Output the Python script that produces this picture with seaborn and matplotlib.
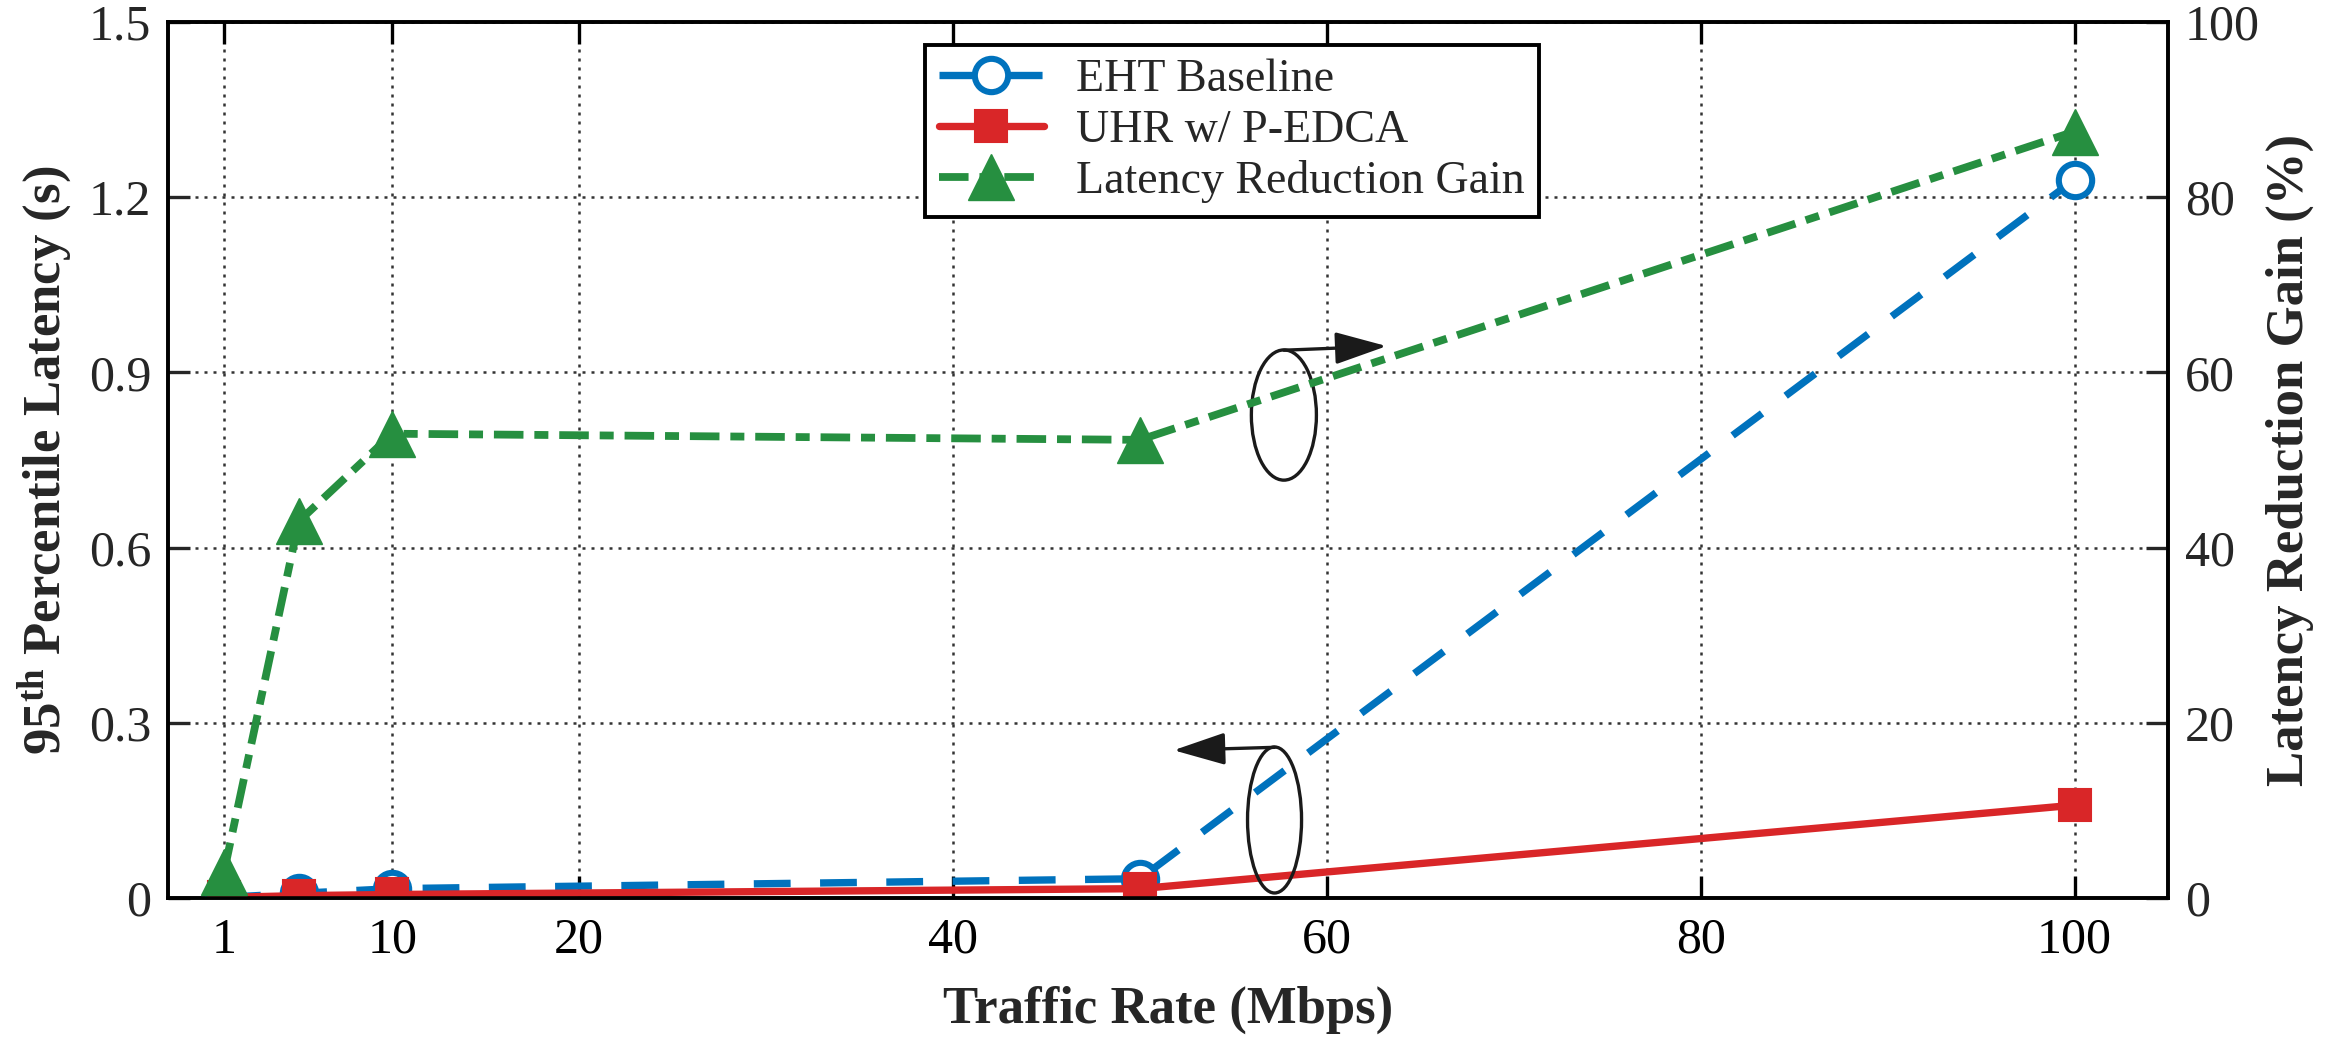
import numpy as np
import pandas as pd
import matplotlib
matplotlib.use("Agg")
import matplotlib.pyplot as plt
from matplotlib.patches import Ellipse
import seaborn as sns

# ---- data ----
traffic_rate = [1, 5, 10, 50, 100]
eht_baseline = [0.001, 0.008, 0.016, 0.033, 1.23]
uhr_pedca = [0.001, 0.004, 0.006, 0.016, 0.159]
latency_gain = [3.0, 43.0, 53.0, 52.3, 87.5]
x_ticks = [1, 10, 20, 40, 60, 80, 100]
x_ticklabels = ["1", "10", "20", "40", "60", "80", "100"]
y_ticks = [0, 0.3, 0.6, 0.9, 1.2, 1.5]
y_ticklabels = ["0", "0.3", "0.6", "0.9", "1.2", "1.5"]
y2_ticks = [0, 20, 40, 60, 80, 100]
y2_ticklabels = ["0", "20", "40", "60", "80", "100"]
series_names = ["EHT Baseline", "UHR w/ P-EDCA", "Latency Reduction Gain"]

BLUE = "#0072BD"
RED = "#D92628"
GREEN = "#268F40"
INK = "#1a1a1a"

sns.set_theme(style="white")
plt.rcParams["font.family"] = ["Liberation Serif", "DejaVu Serif"]
plt.rcParams["mathtext.fontset"] = "custom"
plt.rcParams["mathtext.rm"] = "Liberation Serif"
plt.rcParams["mathtext.bf"] = "Liberation Serif:bold"
plt.rcParams["axes.linewidth"] = 2.6
plt.rcParams["axes.edgecolor"] = "black"

W, H = 2344, 1044
fig = plt.figure(figsize=(W / 100, H / 100), dpi=100)
ax = fig.add_axes([168 / W, 1 - 898 / H, 2000 / W, 876 / H])
ax2 = ax.twinx()

df = pd.DataFrame({"rate": traffic_rate, "eht": eht_baseline,
                   "uhr": uhr_pedca, "gain": latency_gain})

# EHT baseline
sns.lineplot(data=df, x="rate", y="eht", ax=ax, color=BLUE, lw=5.3,
             marker="o", markersize=24, markeredgewidth=4.4,
             markerfacecolor="white", markeredgecolor=BLUE,
             label=series_names[0], legend=False, zorder=3)
ax.lines[-1].set_dashes((5.0, 4.0))
# UHR
sns.lineplot(data=df, x="rate", y="uhr", ax=ax, color=RED, lw=5.3,
             marker="s", markersize=23, markeredgewidth=1.5,
             markerfacecolor=RED, markeredgecolor=RED,
             label=series_names[1], legend=False, zorder=4)
# Gain
sns.lineplot(data=df, x="rate", y="gain", ax=ax2, color=GREEN, lw=5.6,
             marker="^", markersize=33, markeredgewidth=1.0,
             markerfacecolor=GREEN, markeredgecolor=GREEN,
             label=series_names[2], legend=False, zorder=5)
ax2.lines[-1].set_dashes((3.8, 1.4, 1.8, 1.4))

ax.set_xlim(-2, 105)
ax.set_ylim(0, 1.5)
ax2.set_ylim(0, 100)

ax.set_xticks(x_ticks)
ax.set_xticklabels(x_ticklabels)
ax.set_yticks(y_ticks)
ax.set_yticklabels(y_ticklabels)
ax2.set_yticks(y2_ticks)
ax2.set_yticklabels(y2_ticklabels)

ax.grid(True, which="major", color="#333333", linestyle=(0, (1.2, 2.4)),
        linewidth=1.8)
ax2.grid(False)
ax.set_axisbelow(True)

tick_font = 36
ax.tick_params(axis="x", which="major", direction="in", length=16, width=2.4,
               top=True, bottom=True, labelsize=tick_font, pad=14, colors="black")
ax.tick_params(axis="y", which="major", direction="in", length=16, width=2.4,
               left=True, right=False, labelsize=tick_font, pad=12)
ax2.tick_params(axis="y", which="major", direction="in", length=16, width=2.4,
                right=True, left=False, labelsize=tick_font, pad=12)
for a in (ax, ax2):
    for s in a.spines.values():
        s.set_linewidth(2.6)
        s.set_color("black")

ax.set_xlabel("Traffic Rate (Mbps)", fontsize=38, fontweight="bold")
ax.set_ylabel(r"$\mathbf{95^{th}}$ Percentile Latency (s)", fontsize=38,
              fontweight="bold")
ax2.set_ylabel("Latency Reduction Gain (%)", fontsize=38, fontweight="bold",
               rotation=90)
ax.xaxis.set_label_coords(0.5, (898 - 1010) / 876)
ax.xaxis.label.set_va("center")
ax.yaxis.set_label_coords((45 - 168) / 2000, 0.5)
ax.yaxis.label.set_va("center")
ax2.yaxis.set_label_coords((2290 - 168) / 2000, 0.5)
ax2.yaxis.label.set_va("center")

# annotations: ellipses + arrows
arrow_style = "-|>,head_length=1.6,head_width=0.5"
ax.add_patch(Ellipse((57.2, 0.1336), 2.89, 0.25, fill=False, edgecolor=INK,
                     lw=2.4, zorder=6))
ax.annotate("", xy=(51.8, 0.253), xytext=(57.2, 0.258),
            arrowprops=dict(arrowstyle=arrow_style, lw=2.4, color=INK,
                            shrinkA=0, shrinkB=0, mutation_scale=20), zorder=6)
ax.add_patch(Ellipse((57.7, 0.827), 3.48, 0.223, fill=False, edgecolor=INK,
                     lw=2.4, zorder=6))
ax.annotate("", xy=(63.2, 0.945), xytext=(57.7, 0.938),
            arrowprops=dict(arrowstyle=arrow_style, lw=2.4, color=INK,
                            shrinkA=0, shrinkB=0, mutation_scale=20), zorder=6)

# legend
h1, l1 = ax.get_legend_handles_labels()
h2, l2 = ax2.get_legend_handles_labels()
leg = ax2.legend(h1 + h2, l1 + l2, loc="upper left",
                 bbox_to_anchor=(925 / W, 1 - 45 / H),
                 bbox_transform=fig.transFigure, borderaxespad=0,
                 fontsize=33, frameon=True, fancybox=False, framealpha=1,
                 edgecolor="black", handlelength=2.3, handletextpad=0.7,
                 labelspacing=0.18, borderpad=0.3)
leg.get_frame().set_linewidth(2.8)

fig.savefig("out.png", dpi=100, facecolor="white")
